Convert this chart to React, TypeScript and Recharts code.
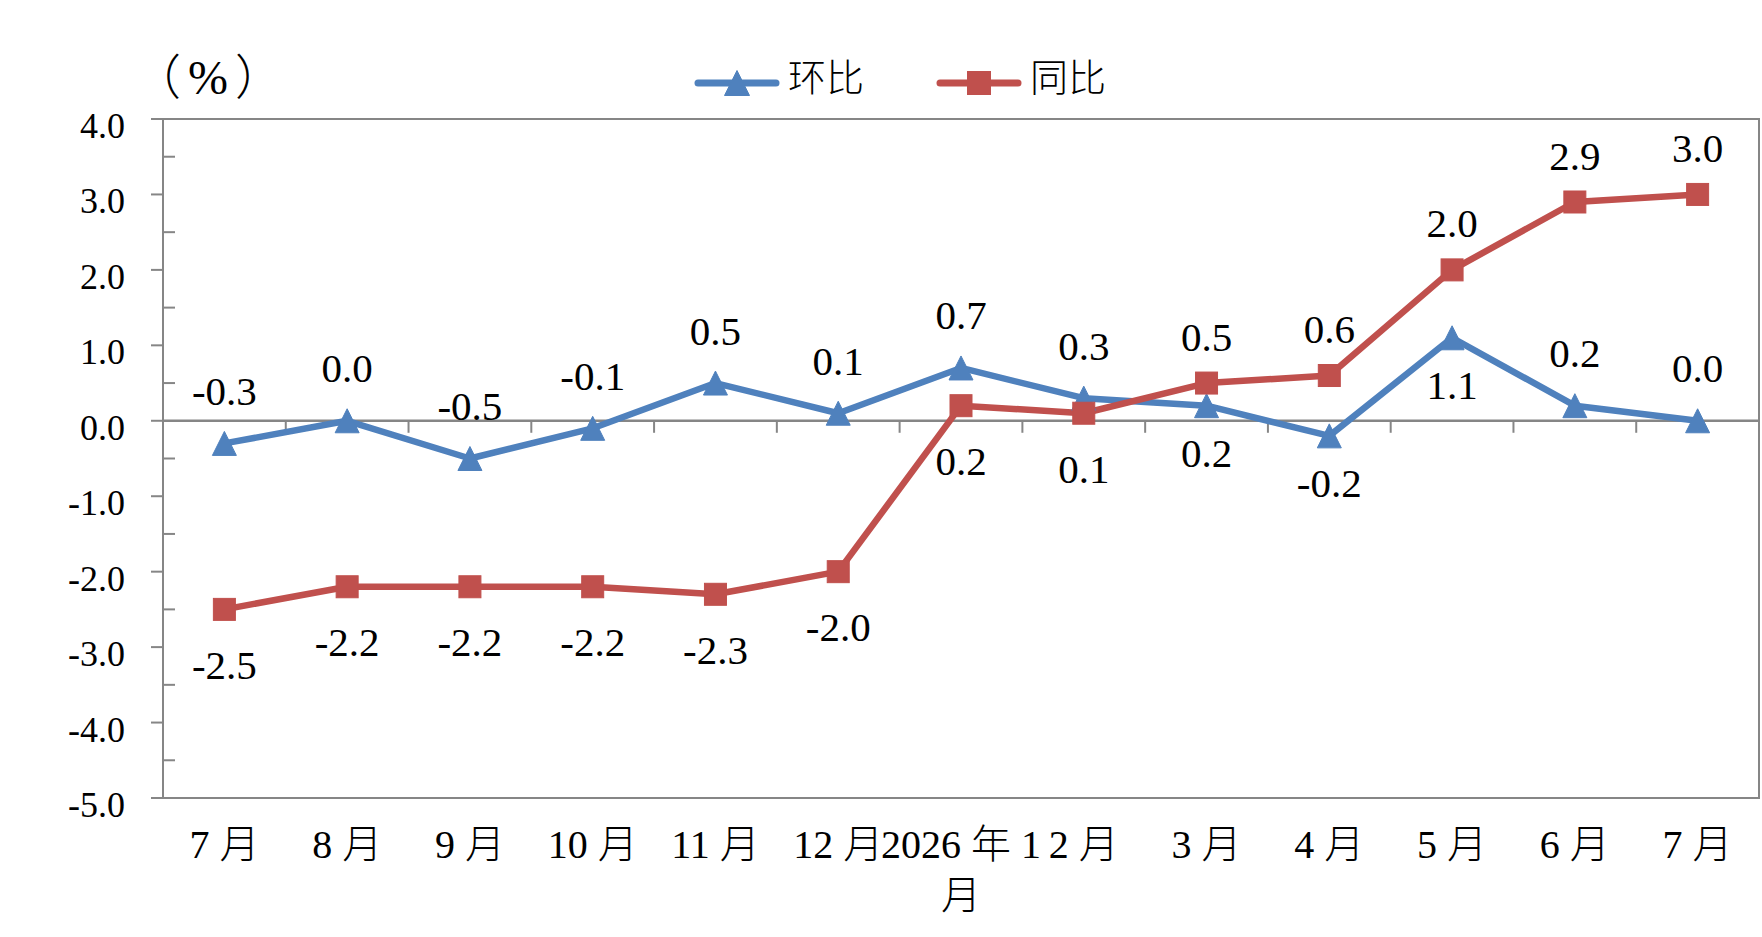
import React from 'react';
import {
  LineChart,
  Line,
  XAxis,
  YAxis,
  ReferenceLine,
  ReferenceArea,
  Legend,
  LabelList,
} from 'recharts';

// ---------- data ----------
const months = ['7 月', '8 月', '9 月', '10 月', '11 月', '12 月', '2026 年 1 月', '2 月', '3 月', '4 月', '5 月', '6 月', '7 月'];
const momValues = [-0.3, 0.0, -0.5, -0.1, 0.5, 0.1, 0.7, 0.3, 0.2, -0.2, 1.1, 0.2, 0.0];
const yoyValues = [-2.5, -2.2, -2.2, -2.2, -2.3, -2.0, 0.2, 0.1, 0.5, 0.6, 2.0, 2.9, 3.0];
const momLabelSide = ['top', 'top', 'top', 'top', 'top', 'top', 'top', 'top', 'bottom', 'bottom', 'bottom', 'top', 'top'];
const yoyLabelSide = ['bottom', 'bottom', 'bottom', 'bottom', 'bottom', 'bottom', 'bottom', 'bottom', 'top', 'top', 'top', 'top', 'top'];
const yTicks = [-5, -4.5, -4, -3.5, -3, -2.5, -2, -1.5, -1, -0.5, 0, 0.5, 1, 1.5, 2, 2.5, 3, 3.5, 4];
const seriesOrder = ['mom', 'yoy'];
const seriesNames = { mom: '环比', yoy: '同比' };
const unitLabel = '（%）';

const xIndex = months.map((_, i) => i);
const data = months.map((m, i) => ({ idx: i, month: m, mom: momValues[i], yoy: yoyValues[i] }));

// ---------- style ----------
const BLUE = '#4F81BD';
const RED = '#C0504D';
const AXIS = '#868686';
const FONT = "'Liberation Serif', 'Noto Sans CJK SC', serif";
const X_FONT_SIZE = 40;
const X_WRAP_WIDTH = 175;

let measureCtx: CanvasRenderingContext2D | null = null;
const measure = (s: string) => {
  if (typeof document === 'undefined') return s.length * X_FONT_SIZE * 0.6;
  if (!measureCtx) {
    const c = document.createElement('canvas');
    measureCtx = c.getContext('2d');
  }
  if (!measureCtx) return s.length * X_FONT_SIZE * 0.6;
  measureCtx.font = `300 ${X_FONT_SIZE}px ${FONT}`;
  return measureCtx.measureText(s).width;
};

const wrapWords = (label: string, maxW: number) => {
  const words = label.split(' ');
  const lines: string[] = [];
  let cur = '';
  words.forEach((w) => {
    const test = cur ? `${cur} ${w}` : w;
    if (cur && measure(test) > maxW) {
      lines.push(cur);
      cur = w;
    } else {
      cur = test;
    }
  });
  if (cur) lines.push(cur);
  return lines;
};

const YTick = (props: any) => {
  const { x, y, payload } = props;
  const v = Number(payload.value);
  const major = Math.abs(v - Math.round(v)) < 1e-9;
  return (
    <g>
      {major ? (
        <line x1={x - 12} x2={x} y1={y} y2={y} stroke={AXIS} strokeWidth={2} />
      ) : (
        <line x1={x} x2={x + 12} y1={y} y2={y} stroke={AXIS} strokeWidth={2} />
      )}
      {major && (
        <text x={x - 38} y={y + 19} textAnchor="end" fontSize={36} fontFamily={FONT} fill="#000">
          {v.toFixed(1)}
        </text>
      )}
    </g>
  );
};

const XTick = (props: any) => {
  const { x, y, payload } = props;
  const label = months[Number(payload.value)] ?? '';
  const lines = wrapWords(label, X_WRAP_WIDTH);
  return (
    <text
      x={x}
      y={y + 60}
      textAnchor="middle"
      fontSize={X_FONT_SIZE}
      fontFamily={FONT}
      fontWeight={300}
      fill="#000"
    >
      {lines.map((ln, i) => (
        <tspan key={i} x={x} dy={i === 0 ? 0 : 51}>
          {ln}
        </tspan>
      ))}
    </text>
  );
};

const ZeroAxis = (props: any) => {
  const { x1, x2, y1 } = props;
  const n = months.length;
  const step = (x2 - x1) / n;
  const ticks = [];
  for (let k = 1; k <= n; k++) {
    const tx = x1 + step * k;
    ticks.push(<line key={k} x1={tx} x2={tx} y1={y1} y2={y1 + 12} stroke={AXIS} strokeWidth={2} />);
  }
  return (
    <g>
      <line x1={x1} x2={x2} y1={y1} y2={y1} stroke={AXIS} strokeWidth={2.5} />
      {ticks}
    </g>
  );
};

const Triangle = ({ cx, cy, color, s = 24 }: any) => (
  <path
    d={`M ${cx} ${cy - s / 2} L ${cx + s / 2} ${cy + s / 2} L ${cx - s / 2} ${cy + s / 2} Z`}
    fill={color}
    stroke={color}
    strokeWidth={1}
    strokeLinejoin="round"
  />
);

const Square = ({ cx, cy, color, s = 22 }: any) => (
  <rect x={cx - s / 2} y={cy - s / 2} width={s} height={s} fill={color} stroke={color} strokeWidth={1} />
);

const TriangleDot = (props: any) => {
  const { cx, cy, index } = props;
  if (cx == null || cy == null) return <g key={`t${index}`} />;
  return <Triangle key={`t${index}`} cx={cx} cy={cy} color={BLUE} />;
};

const SquareDot = (props: any) => {
  const { cx, cy, index } = props;
  if (cx == null || cy == null) return <g key={`s${index}`} />;
  return <Square key={`s${index}`} cx={cx} cy={cy} color={RED} />;
};

const makeLabel = (sides: string[], topOff: number, botOff: number) => (props: any) => {
  const vb = props.viewBox || {};
  const x = props.x ?? vb.x;
  const y = props.y ?? vb.y;
  const { value, index } = props;
  if (x == null || y == null) return null;
  const side = sides[index] || 'top';
  const cy = side === 'top' ? y - topOff : y + botOff;
  const fs = 41;
  return (
    <text x={x} y={cy + fs * 0.33} textAnchor="middle" fontSize={fs} fontFamily={FONT} fill="#000">
      {Number(value).toFixed(1)}
    </text>
  );
};

const momLabel = makeLabel(momLabelSide, 52, 48);
const yoyLabel = makeLabel(yoyLabelSide, 46, 56);

const LegendContent = (props: any) => {
  const payload = [...(props.payload || [])].sort(
    (a: any, b: any) => seriesOrder.indexOf(a.dataKey) - seriesOrder.indexOf(b.dataKey)
  );
  return (
    <div style={{ display: 'flex', alignItems: 'center', whiteSpace: 'nowrap' }}>
      {payload.map((entry: any, i: number) => {
        const isMom = entry.dataKey === 'mom';
        const color = isMom ? BLUE : RED;
        return (
          <div key={i} style={{ display: 'flex', alignItems: 'center', marginRight: i === 0 ? 72 : 0 }}>
            <svg width={86} height={30} style={{ display: 'block' }}>
              <line x1={4} x2={82} y1={15} y2={15} stroke={color} strokeWidth={7} strokeLinecap="round" />
              {isMom ? <Triangle cx={43} cy={15} color={color} s={25} /> : <Square cx={43} cy={15} color={color} s={23} />}
            </svg>
            <span
              style={{
                marginLeft: 8,
                fontSize: 38,
                fontFamily: FONT,
                fontWeight: 300,
                color: '#000',
                lineHeight: '30px',
                position: 'relative',
                top: -5,
              }}
            >
              {entry.value}
            </span>
          </div>
        );
      })}
    </div>
  );
};

export default function App() {
  return (
    <div style={{ position: 'absolute', left: 0, top: 0, width: 1762, height: 937, background: '#fff' }}>
      <div
        style={{
          position: 'absolute',
          left: 133,
          top: 53,
          fontSize: 48,
          fontFamily: FONT,
          fontWeight: 300,
          color: '#000',
          lineHeight: '50px',
          letterSpacing: 7,
          whiteSpace: 'nowrap',
        }}
      >
        {unitLabel}
      </div>
      <LineChart width={1762} height={937} data={data} margin={{ top: 119, right: 3, bottom: 0, left: 0 }}>
        <XAxis
          dataKey="idx"
          type="number"
          domain={[-0.5, months.length - 0.5]}
          ticks={xIndex}
          interval={0}
          allowDataOverflow
          height={139}
          axisLine={false}
          tickLine={false}
          tickSize={0}
          tickMargin={0}
          tick={XTick}
        />
        <YAxis
          type="number"
          domain={[-5, 4]}
          ticks={yTicks}
          interval={0}
          width={163}
          allowDataOverflow
          axisLine={{ stroke: AXIS, strokeWidth: 2 }}
          tickLine={false}
          tickSize={0}
          tickMargin={0}
          tick={YTick}
        />
        <ReferenceArea y1={-5} y2={4} fill="none" fillOpacity={0} stroke={AXIS} strokeWidth={2} />
        <ReferenceLine y={0} stroke={AXIS} strokeWidth={2} shape={ZeroAxis} />
        <Legend
          verticalAlign="middle"
          align="center"
          wrapperStyle={{ position: 'absolute', top: 68, left: 694, width: 460, height: 30 }}
          content={LegendContent}
        />
        <Line
          dataKey="mom"
          name={seriesNames.mom}
          stroke={BLUE}
          strokeWidth={6.5}
          strokeLinejoin="round"
          dot={TriangleDot}
          activeDot={false}
          isAnimationActive={false}
        >
          <LabelList dataKey="mom" content={momLabel} />
        </Line>
        <Line
          dataKey="yoy"
          name={seriesNames.yoy}
          stroke={RED}
          strokeWidth={6.5}
          strokeLinejoin="round"
          dot={SquareDot}
          activeDot={false}
          isAnimationActive={false}
        >
          <LabelList dataKey="yoy" content={yoyLabel} />
        </Line>
      </LineChart>
    </div>
  );
}
